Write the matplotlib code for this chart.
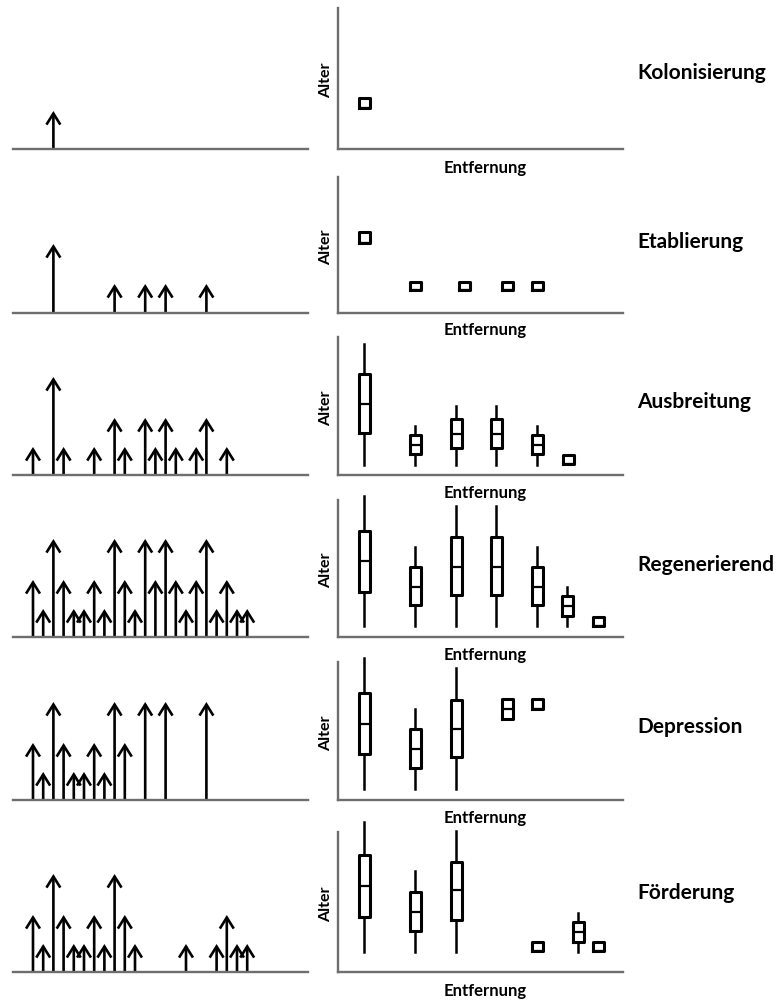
import matplotlib
matplotlib.use("Agg")
import matplotlib.pyplot as plt
from matplotlib.patches import FancyArrowPatch

plt.rcParams['font.family'] = ['Lato', 'DejaVu Sans']

# ---------------- data ----------------
stages = ["Kolonisierung", "Etablierung", "Ausbreitung", "Regenerierend", "Depression", "Förderung"]
x_label = "Entfernung"
y_label = "Alter"

# left column: arrows (grid index, height)
kol_arrow_idx = [2]
kol_arrow_h = [38]
etab_arrow_idx = [2, 8, 11, 13, 17]
etab_arrow_h = [69, 29, 29, 29, 29]
aus_arrow_idx = [0, 2, 3, 6, 8, 9, 11, 12, 13, 14, 16, 17, 19]
aus_arrow_h = [28, 98, 28, 28, 57, 28, 57, 28, 57, 28, 28, 57, 28]
reg_arrow_idx = [0, 1, 2, 3, 4, 5, 6, 7, 8, 9, 10, 11, 12, 13, 14, 15, 16, 17, 18, 19, 20, 21]
reg_arrow_h = [57, 28, 98, 57, 28, 28, 57, 28, 98, 57, 28, 98, 57, 98, 57, 28, 57, 98, 28, 57, 28, 28]
dep_arrow_idx = [0, 1, 2, 3, 4, 5, 6, 7, 8, 9, 11, 13, 17]
dep_arrow_h = [57, 28, 98, 57, 28, 28, 57, 28, 98, 57, 98, 98, 98]
foe_arrow_idx = [0, 1, 2, 3, 4, 5, 6, 7, 8, 9, 10, 15, 18, 19, 20, 21]
foe_arrow_h = [57, 28, 98, 57, 28, 28, 57, 28, 98, 57, 28, 28, 28, 57, 28, 28]

# middle column: boxplots (distance, whislo, q1, med, q3, whishi)
kol_box_x = [26]
kol_whislo = [41]
kol_q1 = [41]
kol_med = [41]
kol_q3 = [51]
kol_whishi = [51]

etab_box_x = [26, 77, 126, 169, 199]
etab_whislo = [70, 23, 23, 23, 23]
etab_q1 = [70, 23, 23, 23, 23]
etab_med = [70, 23, 23, 23, 23]
etab_q3 = [81, 31, 31, 31, 31]
etab_whishi = [81, 31, 31, 31, 31]

aus_box_x = [26, 77, 118, 158, 199, 230]
aus_whislo = [10, 10, 10, 10, 10, 11]
aus_q1 = [42, 21, 27, 27, 21, 11]
aus_med = [71, 30, 41, 41, 30, 11]
aus_q3 = [101, 40, 56, 56, 40, 20]
aus_whishi = [131, 49, 69, 69, 49, 20]

reg_box_x = [26, 77, 118, 158, 199, 229, 260]
reg_whislo = [11, 11, 11, 11, 11, 11, 11]
reg_q1 = [45, 32, 42, 42, 32, 21, 11]
reg_med = [76, 50, 70, 70, 50, 31, 11]
reg_q3 = [106, 70, 100, 100, 70, 41, 20]
reg_whishi = [141, 90, 131, 131, 90, 50, 20]

dep_box_x = [26, 77, 118, 169, 199]
dep_whislo = [11, 11, 11, 81, 91]
dep_q1 = [46, 32, 43, 81, 91]
dep_med = [76, 51, 71, 91, 91]
dep_q3 = [107, 71, 100, 101, 101]
dep_whishi = [142, 91, 132, 101, 101]

foe_box_x = [26, 77, 118, 199, 240, 260]
foe_whislo = [20, 20, 20, 21, 20, 21]
foe_q1 = [55, 41, 52, 21, 30, 21]
foe_med = [86, 60, 82, 21, 40, 21]
foe_q3 = [117, 80, 110, 30, 50, 30]
foe_whishi = [150, 101, 141, 30, 59, 30]

arrow_rows = [
    (kol_arrow_idx, kol_arrow_h),
    (etab_arrow_idx, etab_arrow_h),
    (aus_arrow_idx, aus_arrow_h),
    (reg_arrow_idx, reg_arrow_h),
    (dep_arrow_idx, dep_arrow_h),
    (foe_arrow_idx, foe_arrow_h),
]
box_rows = [
    (kol_box_x, kol_whislo, kol_q1, kol_med, kol_q3, kol_whishi),
    (etab_box_x, etab_whislo, etab_q1, etab_med, etab_q3, etab_whishi),
    (aus_box_x, aus_whislo, aus_q1, aus_med, aus_q3, aus_whishi),
    (reg_box_x, reg_whislo, reg_q1, reg_med, reg_q3, reg_whishi),
    (dep_box_x, dep_whislo, dep_q1, dep_med, dep_q3, dep_whishi),
    (foe_box_x, foe_whislo, foe_q1, foe_med, foe_q3, foe_whishi),
]

# ---------------- layout ----------------
W, H = 780, 1001
fig = plt.figure(figsize=(W / 100, H / 100), dpi=100)

row_top = [8, 177, 337, 500, 662, 832]
row_bot = [149, 313, 475, 637, 800, 972]
xlab_y = [168, 330, 493, 655, 818, 991]
stage_y = [73, 242, 402, 565, 727, 893]

spine_col = "#6e6e6e"

def fx(px):
    return px / W

def fy(py):
    return 1 - py / H

for r in range(6):
    top, bot = row_top[r], row_bot[r]
    h = bot - top
    # ---- left: arrows ----
    axl = fig.add_axes([fx(13), fy(bot), fx(308) - fx(13), h / H])
    axl.set_xlim(-1.96, 26.96)
    axl.set_ylim(0, h)
    for s in ["top", "right", "left"]:
        axl.spines[s].set_visible(False)
    axl.spines["bottom"].set_color(spine_col)
    axl.spines["bottom"].set_linewidth(1.7)
    axl.set_xticks([])
    axl.set_yticks([])
    axl.patch.set_alpha(0)
    idx, hts = arrow_rows[r]
    for xi, hi in zip(idx, hts):
        arr = FancyArrowPatch((xi, 0), (xi, hi),
                              arrowstyle="->,head_length=0.8,head_width=0.5",
                              mutation_scale=10, lw=1.9, color="black",
                              shrinkA=0, shrinkB=0, clip_on=False,
                              joinstyle="miter", capstyle="butt")
        axl.add_patch(arr)

    # ---- middle: boxplots ----
    axm = fig.add_axes([fx(338), fy(bot), fx(623) - fx(338), h / H])
    axm.set_xlim(0, 285)
    axm.set_ylim(0, h)
    axm.spines["top"].set_visible(False)
    axm.spines["right"].set_visible(False)
    for s in ["left", "bottom"]:
        axm.spines[s].set_color(spine_col)
        axm.spines[s].set_linewidth(1.7)
    axm.set_xticks([])
    axm.set_yticks([])
    axm.patch.set_alpha(0)
    bx, wlo, q1, med, q3, whi = box_rows[r]
    stats = []
    for i in range(len(bx)):
        stats.append(dict(whislo=wlo[i], q1=q1[i], med=med[i], q3=q3[i], whishi=whi[i], fliers=[]))
    res = axm.bxp(stats, positions=bx, widths=11, showcaps=False, showfliers=False,
                  manage_ticks=False,
                  boxprops=dict(color="black", linewidth=2.2),
                  whiskerprops=dict(color="black", linewidth=1.8),
                  medianprops=dict(color="black", linewidth=1.6))
    for key in res:
        for art in res[key]:
            art.set_clip_on(False)

    fig.text(fx(485), fy(xlab_y[r]), x_label, ha="center", va="center",
             fontsize=12, fontweight="bold")
    fig.text(fx(326), fy((top + bot) / 2 + 2), y_label, ha="center", va="center",
             rotation=90, fontsize=11.5, fontweight="bold")
    fig.text(fx(637), fy(stage_y[r]), stages[r], ha="left", va="center",
             fontsize=15, fontweight="bold")

fig.savefig("out.png", dpi=100)
